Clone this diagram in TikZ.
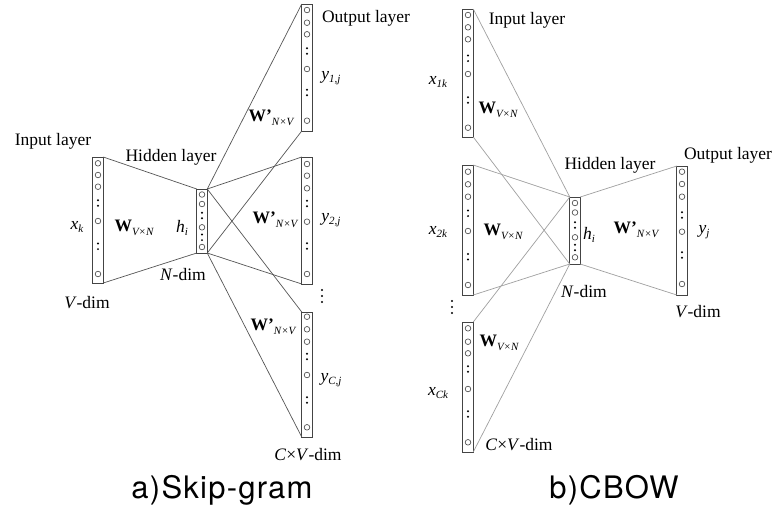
\documentclass[tikz,border=0pt]{standalone}
\usepackage{fontspec}
\setmainfont{Liberation Serif}
\newfontfamily\capfont[LetterSpace=4]{TeX Gyre Heros}
\newcommand\subs[1]{\raisebox{-0.45ex}{\fontsize{11}{12}\selectfont\itshape #1}}
\newcommand\Wm[1]{\textbf{W}\subs{#1}}
\newcommand\Wp[1]{\textbf{W}\textbf{'}\subs{#1}}
\definecolor{skline}{HTML}{555555}
\definecolor{cbline}{HTML}{A0A0A0}
\definecolor{boxc}{HTML}{444444}
\definecolor{circc}{HTML}{555555}
\tikzset{
  colbox/.style={draw=boxc, line width=1pt, minimum width=10.5pt, inner sep=0pt, outer sep=0pt},
  circ/.style={draw=circc, line width=0.7pt},
  lbl/.style={inner sep=0pt, font=\fontsize{17.5}{20}\selectfont},
  captxt/.style={inner sep=0pt, font=\capfont\fontsize{31}{34}\selectfont},
  skl/.style={draw=skline, line width=0.7pt},
  cbl/.style={draw=cbline, line width=0.7pt}
}
\newcommand\nnlayer[6]{%
  \node[colbox, minimum height={(#4)-(#3)}] (#1) at (#2,{((#3)+(#4))/2}) {};
  \foreach \cy in {#5}{\draw[circ] (#2,\cy) circle[radius=2.8pt];}
  \foreach \dy in {#6}{\fill[black] (#2,{\dy-2.8}) circle[radius=1.1pt] (#2,{\dy+2.8}) circle[radius=1.1pt];}
}
\begin{document}
\begin{tikzpicture}[x=1pt,y=-1pt]
\useasboundingbox[fill=white] (0,0) rectangle (778,515);

% ---------------- Skip-gram ----------------
\nnlayer{sin}{98}{157}{283}{163.3,175,186.7,221,274}{203,246.3}
\nnlayer{shid}{202}{189}{253}{194.5,204,227.3,247}{215.5,237.3}
\nnlayer{so1}{307}{4}{131}{10,22.7,34.3,69,120.7}{51,92.5}
\nnlayer{so2}{307}{157}{284}{164,175.7,188.3,221.7,274}{203.5,246}
\nnlayer{so3}{307}{312}{437}{316.7,329.3,341.7,375,427.3}{356.5,400}

\draw[skl] (sin.north east) -- (shid.north west);
\draw[skl] (sin.south east) -- (shid.south west);
\foreach \o in {so1,so2,so3}{
  \draw[skl] (shid.north east) -- (\o.north west);
  \draw[skl] (shid.south east) -- (\o.south west);
}
\coordinate (sdots) at (322,296);
\foreach \d in {-6,0,6}{\fill[black] ([yshift=\d pt]sdots) circle[radius=1.2pt];}

\node[lbl] (t1) at (53,141) {Input layer};
\node[lbl] (t2) at (171,157) {Hidden layer};
\node[lbl] (t3) at (77,227) {\textit{x}\subs{k}};
\node[lbl] (t4) at (134,228) {\Wm{V×N}};
\node[lbl] (t5) at (182,228) {\textit{h}\subs{i}};
\node[lbl] (t6) at (183,275) {\textit{N}-dim};
\node[lbl] (t7) at (87,303) {\textit{V}-dim};
\node[lbl] (t8) at (366,18) {Output layer};
\node[lbl] (t9) at (331,78) {\textit{y}\subs{1,j}};
\node[lbl] (t10) at (271,118) {\Wp{N×V}};
\node[lbl] (t11) at (331,220) {\textit{y}\subs{2,j}};
\node[lbl] (t12) at (275,220) {\Wp{N×V}};
\node[lbl] (t13) at (331,380) {\textit{y}\subs{C,j}};
\node[lbl] (t14) at (273,327) {\Wp{N×V}};
\node[lbl] (t15) at (308,455) {\textit{C}×\textit{V}-dim};
\node[captxt] (c1) at (222,490) {a)Skip-gram};

% ---------------- CBOW ----------------
\nnlayer{cin1}{468}{9}{137}{15,27.3,39.3,74,127.7}{58.3,100}
\nnlayer{cin2}{468}{165}{295}{171.7,184.3,196.7,231,285}{213.3,256.7}
\nnlayer{cin3}{468}{322}{452}{328.3,341.7,353.3,389,442.3}{369,414}
\nnlayer{chid}{575}{197}{264}{203,212.5,237.3,257.3}{225,247.5}
\nnlayer{cout}{682}{166}{295}{171.7,184,196.7,231.7,284}{215,255}

\foreach \i in {cin1,cin2,cin3}{
  \draw[cbl] (\i.north east) -- (chid.north west);
  \draw[cbl] (\i.south east) -- (chid.south west);
}
\draw[cbl] (chid.north east) -- (cout.north west);
\draw[cbl] (chid.south east) -- (cout.south west);
\coordinate (cdots) at (452,307);
\foreach \d in {-6,0,6}{\fill[black] ([yshift=\d pt]cdots) circle[radius=1.2pt];}

\node[lbl] (u1) at (527,20) {Input layer};
\node[lbl] (u2) at (438,82) {\textit{x}\subs{1k}};
\node[lbl] (u3) at (498,110) {\Wm{V×N}};
\node[lbl] (u4) at (438,232) {\textit{x}\subs{2k}};
\node[lbl] (u5) at (503,232) {\Wm{V×N}};
\node[lbl] (u6) at (438,393) {\textit{x}\subs{Ck}};
\node[lbl] (u7) at (499,343) {\Wm{V×N}};
\node[lbl] (u8) at (519,445) {\textit{C}×\textit{V}-dim};
\node[lbl] (u9) at (610,165) {Hidden layer};
\node[lbl] (u10) at (589,235) {\textit{h}\subs{i}};
\node[lbl] (u11) at (584,292) {\textit{N}-dim};
\node[lbl] (u12) at (636,230) {\Wp{N×V}};
\node[lbl] (u13) at (704,232) {\textit{y}\subs{j}};
\node[lbl] (u14) at (728,155) {Output layer};
\node[lbl] (u15) at (698,312) {\textit{V}-dim};
\node[captxt] (c2) at (614,490) {b)CBOW};
\end{tikzpicture}
\end{document}
